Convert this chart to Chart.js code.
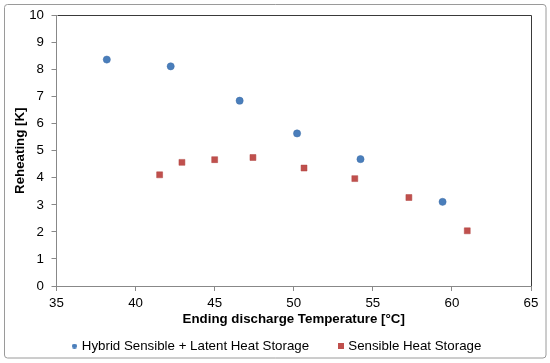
<!DOCTYPE html>
<html>
<head>
<meta charset="utf-8">
<script src="https://cdn.jsdelivr.net/npm/chart.js@4/dist/chart.umd.min.js"></script>
<style>
html,body{margin:0;padding:0;background:#fff;}
#wrap{position:relative;width:550px;height:363px;}
</style>
</head>
<body>
<div id="wrap"><canvas id="c" width="550" height="363"></canvas></div>
<script>
const hybridTemp = [38.18, 42.22, 46.58, 50.21, 54.22, 59.41];
const hybridReheat = [8.37, 8.12, 6.85, 5.64, 4.69, 3.11];
const sensibleTemp = [41.52, 42.93, 45.0, 47.42, 50.65, 53.86, 57.28, 60.97];
const sensibleReheat = [4.11, 4.57, 4.67, 4.75, 4.36, 3.97, 3.27, 2.04];
const seriesNames = ['Hybrid Sensible + Latent Heat Storage', 'Sensible Heat Storage'];
const xTitle = 'Ending discharge Temperature [°C]';
const yTitle = 'Reheating [K]';

const FONT = 'Liberation Sans, Arial, sans-serif';
const BLUE = '#4a7ebb', RED = '#c0504d';

const toPts = (xs, ys) => xs.map((x, i) => ({x: x, y: ys[i]}));

function glyph(kind, color, size) {
  const cv = document.createElement('canvas');
  cv.width = size; cv.height = size;
  const g = cv.getContext('2d');
  g.fillStyle = color;
  if (kind === 'circle') { g.beginPath(); g.arc(size / 2, size / 2, size / 2, 0, Math.PI * 2); g.fill(); }
  else { g.fillRect(0, 0, size, size); }
  return cv;
}
const legendGlyphs = [glyph('circle', BLUE, 5), glyph('rect', RED, 6)];

const framePlugin = {
  id: 'frame',
  beforeDraw(chart) {
    const ctx = chart.ctx;
    ctx.save();
    ctx.strokeStyle = '#9a9a9a';
    ctx.lineWidth = 1;
    const x = 4.5, y = 4.5, w = 541.5, h = 353.5, r = 3;
    ctx.beginPath();
    ctx.moveTo(x + r, y);
    ctx.lineTo(x + w - r, y); ctx.arcTo(x + w, y, x + w, y + r, r);
    ctx.lineTo(x + w, y + h - r); ctx.arcTo(x + w, y + h, x + w - r, y + h, r);
    ctx.lineTo(x + r, y + h); ctx.arcTo(x, y + h, x, y + h - r, r);
    ctx.lineTo(x, y + r); ctx.arcTo(x, y, x + r, y, r);
    ctx.closePath();
    ctx.stroke();
    ctx.restore();
  },
  afterDraw(chart) {
    const a = chart.chartArea, ctx = chart.ctx;
    ctx.save();
    ctx.strokeStyle = '#3a3a3a';
    ctx.lineWidth = 1;
    ctx.beginPath();
    ctx.moveTo(Math.round(a.left) + 0.5, Math.round(a.top) + 0.5);
    ctx.lineTo(Math.round(a.right) + 0.5, Math.round(a.top) + 0.5);
    ctx.lineTo(Math.round(a.right) + 0.5, Math.round(a.bottom));
    ctx.stroke();
    ctx.restore();
  }
};

new Chart(document.getElementById('c'), {
  type: 'scatter',
  data: {
    datasets: [
      {
        label: seriesNames[0],
        data: toPts(hybridTemp, hybridReheat),
        pointStyle: 'circle',
        pointRadius: 3.6,
        backgroundColor: BLUE,
        borderColor: '#3f6fa8',
        borderWidth: 0.5
      },
      {
        label: seriesNames[1],
        data: toPts(sensibleTemp, sensibleReheat),
        pointStyle: 'rect',
        pointRadius: 4.2,
        backgroundColor: RED,
        borderColor: '#b04440',
        borderWidth: 0.5
      }
    ]
  },
  options: {
    responsive: false,
    animation: false,
    devicePixelRatio: 1,
    layout: {padding: {left: 24, right: 19, top: 15, bottom: 0.35}},
    plugins: {
      tooltip: {enabled: false},
      legend: {
        position: 'bottom',
        labels: {
          usePointStyle: true,
          boxWidth: 1.5,
          boxHeight: 5,
          padding: 31,
          color: '#000',
          font: {family: FONT, size: 13.3},
          generateLabels(chart) {
            const items = Chart.defaults.plugins.legend.labels.generateLabels(chart);
            items.forEach((it, i) => { it.pointStyle = legendGlyphs[i]; });
            return items;
          }
        }
      }
    },
    scales: {
      x: {
        type: 'linear',
        min: 35, max: 65,
        ticks: {stepSize: 5, color: '#000', padding: 4, font: {family: FONT, size: 13.3}},
        grid: {display: true, drawOnChartArea: false, drawTicks: true, tickLength: 5, color: '#888'},
        border: {display: true, color: '#888', width: 1},
        title: {display: true, text: xTitle, color: '#000', padding: {top: 0, bottom: -18.65}, font: {family: FONT, size: 13.3, weight: 'bold'}},
        afterFit(s) { s.height = 22.35; }
      },
      y: {
        type: 'linear',
        min: 0, max: 10,
        ticks: {stepSize: 1, color: '#000', padding: 7.5, font: {family: FONT, size: 13.3}},
        grid: {display: true, drawOnChartArea: false, drawTicks: true, tickLength: 5, color: '#888'},
        border: {display: true, color: '#888', width: 1},
        title: {display: true, text: yTitle, color: '#000', padding: {top: -12, bottom: 0}, font: {family: FONT, size: 13.3, weight: 'bold'}},
        afterFit(s) { s.width = 32.5; }
      }
    }
  },
  plugins: [framePlugin]
});
</script>
</body>
</html>
